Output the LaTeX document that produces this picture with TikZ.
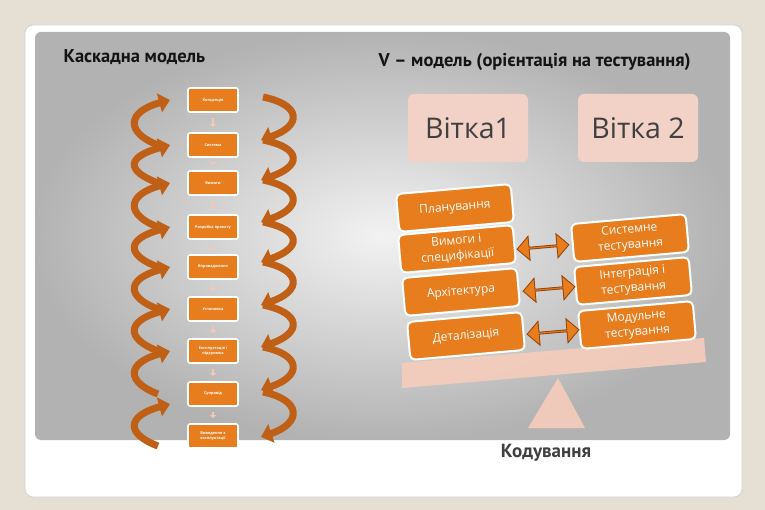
\documentclass[tikz,border=0pt]{standalone}
\usepackage{fontspec}
\setmainfont{Open Sans}
\newfontfamily\ptsans{PT Sans}
\usetikzlibrary{arrows.meta,shapes.arrows}
\definecolor{bgbeige}{RGB}{230,223,212}
\definecolor{orng}{RGB}{232,125,30}
\definecolor{brn}{RGB}{192,96,22}
\definecolor{dbrn}{RGB}{150,70,15}
\definecolor{pinkbox}{RGB}{242,210,198}
\definecolor{plankc}{RGB}{246,205,188}
\definecolor{txtgray}{RGB}{64,64,64}
\definecolor{title}{RGB}{20,20,20}
\begin{document}
\begin{tikzpicture}[x=1pt,y=-1pt,
  wbox/.style={draw=white,line width=1.6pt,fill=orng,rounded corners=2pt,
    minimum width=50pt,minimum height=24pt,inner sep=1pt,text=white,
    font=\bfseries\fontsize{3.8}{4.4}\selectfont,align=center},
  sbox/.style={draw=white,line width=2pt,fill=orng,rounded corners=5pt,
    minimum width=115pt,minimum height=38pt,inner sep=2pt,text=white,
    font=\fontsize{12}{15.5}\selectfont,align=center,rotate=5},
  vbox/.style={fill=pinkbox,rounded corners=6pt,minimum width=120pt,
    minimum height=68pt,text=txtgray,font=\fontsize{28.5}{30}\selectfont},
  darr/.style={double arrow,fill=orng,draw=dbrn,line width=0.9pt,
    minimum width=24pt,minimum height=52pt,double arrow head extend=5pt,
    inner sep=0pt,rotate=5},
  larr/.style={draw=brn,line width=7pt,-{Triangle[width=19pt,length=11pt]}},
  parr/.style={draw={rgb,255:red,244;green,200;blue,184},line width=2.5pt,
    -{Triangle[width=6pt,length=3pt]},shorten <=5pt,shorten >=5pt},
  ttl/.style={font=\ptsans\bfseries\fontsize{18.5}{20}\selectfont,text=title}
]
\fill[bgbeige] (0,0) rectangle (765,510);
\useasboundingbox (0,0) rectangle (765,510);
% frame
\filldraw[fill=white,draw=gray!35,line width=0.8pt,rounded corners=8pt] (25,25) rectangle (742,497);
\shade[rounded corners=6pt,inner color=gray!10,outer color=gray!60] (35,32) rectangle (730,440);

% titles
\node[ttl,anchor=west] (t1) at (60,57) {Каскадна модель};
\node[ttl,anchor=west] (t2) at (375,62) {V – модель (орієнтація на тестування)};

% waterfall boxes
\node[wbox] (w1) at (213,100) {Концепція};
\node[wbox] (w2) at (213,145) {Система};
\node[wbox] (w3) at (213,183) {Вимоги};
\node[wbox] (w4) at (213,227) {Розробка проекту};
\node[wbox] (w5) at (213,267) {Впровадження};
\node[wbox] (w6) at (213,309) {Установка};
\node[wbox] (w7) at (213,351) {Експлуатація і\\підтримка};
\node[wbox] (w8) at (213,394) {Супровід};
\node[wbox] (w9) at (213,436) {Виведення з\\експлуатації};
\foreach \a/\b in {w1/w2,w2/w3,w3/w4,w4/w5,w5/w6,w6/w7,w7/w8,w8/w9}
  \draw[parr] (\a.south) -- (\b.north);

% curved arrows
\foreach \yt/\yb in {100/145,145/183,183/227,227/267,267/309,309/351,351/394,404/446}{
  \draw[larr] (158,\yb) .. controls (126,\yb-12) and (126,\yt+12) .. (170,\yt);
}
\foreach \yt/\yb in {97/140,140/180,180/222,222/262,262/305,305/347,347/390,392/437}{
  \draw[larr] (263,\yt) .. controls (302,\yt+8) and (302,\yb-14) .. (261,\yb);
}

% V-model
\node[vbox] (v1) at (468,128) {Вітка1};
\node[vbox] (v2) at (638,128) {Вітка 2};

\fill[plankc,opacity=0.9] (402,363) -- (704,338) -- (706,362) -- (402,388) -- cycle;
\fill[plankc,opacity=0.9] (558,378) -- (585,428) -- (528,428) -- cycle;

\node[sbox] (p1) at (455,208) {Планування};
\node[sbox] (p2) at (457,249) {Вимоги і\\специфікації};
\node[sbox] (p3) at (461,292) {Архітектура};
\node[sbox] (p4) at (466,336) {Деталізація};
\node[sbox] (s1) at (630,238) {Системне\\тестування};
\node[sbox] (s2) at (633,281) {Інтеграція і\\тестування};
\node[sbox] (s3) at (637,325) {Модульне\\тестування};

\node[darr] (d1) at (543,247) {};
\node[darr] (d2) at (549,289) {};
\node[darr] (d3) at (553,332) {};

\node[font=\ptsans\bfseries\fontsize{19}{21}\selectfont,text=txtgray] (k) at (546,453) {Кодування};
\end{tikzpicture}
\end{document}
